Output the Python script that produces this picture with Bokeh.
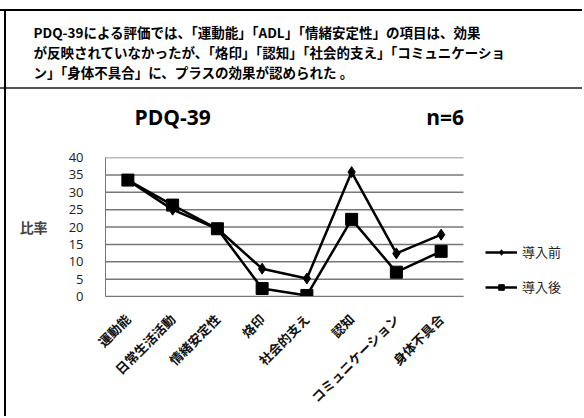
from bokeh.plotting import figure
from bokeh.models import (Range1d, FixedTicker, Legend, LegendItem, Title,
                          LinearAxis, ColumnDataSource)
from bokeh.embed import file_html
from bokeh.resources import INLINE
import math

categories = ["運動能", "日常生活活動", "情緒安定性", "烙印", "社会的支え", "認知",
              "コミュニケーション", "身体不具合"]
before = [33.5, 25.0, 19.5, 8.0, 5.2, 35.8, 12.4, 17.8]
after = [33.5, 26.3, 19.5, 2.3, 0.3, 22.2, 7.0, 13.0]
series_names = ["導入前", "導入後"]
y_ticks = [0, 5, 10, 15, 20, 25, 30, 35, 40]
header_lines = [
    "PDQ-39による評価では、「運動能」「ADL」「情緒安定性」の項目は、効果",
    "が反映されていなかったが、「烙印」「認知」「社会的支え」「コミュニケーショ",
    "ン」「身体不具合」に、プラスの効果が認められた 。",
]
chart_title = "PDQ-39"
n_text = "n=6"
y_label = "比率"

JP = "Noto Sans CJK JP"
W, H = 582, 416
ML, MT, MB = 105, 157, 120
PX_PER_CAT = 44.75
n_cat = len(categories)
xs = list(range(n_cat))
x_end = -0.5 + (W - ML) / PX_PER_CAT

src = ColumnDataSource(dict(x=xs, before=before, after=after))
p = figure(width=W, height=H, x_range=Range1d(-0.5, x_end), y_range=Range1d(0, 40),
           output_backend="svg", toolbar_location=None, title_location=None,
           min_border_left=ML, min_border_right=0, min_border_top=MT,
           min_border_bottom=MB)
p.outline_line_color = None
p.background_fill_color = "white"
p.border_fill_alpha = 0
p.styles = {
    "background-image": "linear-gradient(#000,#000), linear-gradient(#000,#000), "
                        "linear-gradient(#555,#555)",
    "background-size": "100% 2px, 2px 100%, 100% 2px",
    "background-position": "0 9px, 4px 9px, 0 87px",
    "background-repeat": "no-repeat",
}

# horizontal grid lines over the category area only
p.grid.visible = False
p.segment(x0=[-0.5] * len(y_ticks), x1=[n_cat - 0.5] * len(y_ticks),
          y0=y_ticks, y1=y_ticks, line_color="#777777", line_width=1.5)

p.yaxis.ticker = FixedTicker(ticks=y_ticks)
p.yaxis.major_tick_line_color = None
p.yaxis.minor_tick_line_color = None
p.yaxis.axis_line_color = "#777777"
p.yaxis.major_label_standoff = 16
p.yaxis.major_label_text_font = "Open Sans"
p.yaxis.major_label_text_font_size = "13px"
p.yaxis.major_label_text_color = "#222222"
p.yaxis.axis_label = y_label
p.yaxis.axis_label_orientation = "horizontal"
p.yaxis.axis_label_standoff = 18
p.yaxis.axis_label_text_font = JP
p.yaxis.axis_label_text_font_style = "bold"
p.yaxis.axis_label_text_font_size = "14px"

p.xaxis.ticker = FixedTicker(ticks=xs)
p.xaxis.major_label_overrides = {i: c for i, c in enumerate(categories)}
p.xaxis.bounds = (-0.5, n_cat - 0.5)
p.xaxis.major_tick_line_color = None
p.xaxis.minor_tick_line_color = None
p.xaxis.axis_line_color = "#777777"
p.xaxis.major_label_orientation = math.pi / 4
p.xaxis.major_label_standoff = 14
p.xaxis.major_label_text_font = JP
p.xaxis.major_label_text_font_style = "bold"
p.xaxis.major_label_text_font_size = "13px"
p.xaxis.major_label_text_color = "#111111"

l1 = p.line("x", "before", source=src, line_color="black", line_width=2.5)
s1 = p.scatter("x", "before", source=src, marker="diamond", size=11, color="black")
l2 = p.line("x", "after", source=src, line_color="black", line_width=2.5)
s2 = p.scatter("x", "after", source=src, marker="square", size=12, color="black")

legend = Legend(items=[LegendItem(label=series_names[0], renderers=[l1, s1]),
                       LegendItem(label=series_names[1], renderers=[l2, s2])],
                location=(380, 0), glyph_width=32, glyph_height=14, label_height=14,
                label_standoff=5, spacing=16, padding=0, margin=0,
                border_line_color=None, background_fill_alpha=0,
                label_text_font=JP, label_text_font_size="13px",
                label_text_color="#222222")
p.add_layout(legend)

# chart title row ("PDQ-39" ... "n=6") as an axis above the frame
title_ticks = [1, 7.09]
top_axis = LinearAxis(ticker=FixedTicker(ticks=title_ticks),
                      major_label_overrides={1: chart_title, 7.09: n_text},
                      axis_line_color=None, major_tick_line_color=None,
                      minor_tick_line_color=None, major_label_standoff=21,
                      major_label_text_font="Open Sans",
                      major_label_text_font_style="bold",
                      major_label_text_font_size="21px",
                      major_label_text_color="black")
p.add_layout(top_axis, "above")

header = Title(text="\n".join(header_lines), align="left", offset=-72, standoff=35,
               text_font=JP, text_font_style="bold", text_font_size="13.5px",
               text_line_height=1.0, text_color="black")
p.add_layout(header, "above")

open("out.html", "w").write(file_html(p, INLINE))
